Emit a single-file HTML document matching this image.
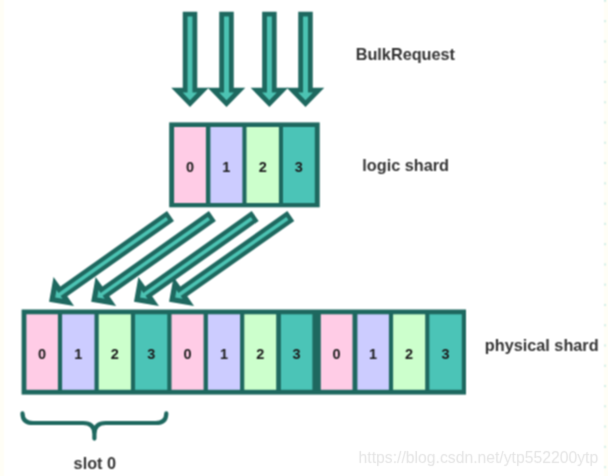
<!DOCTYPE html>
<html lang="en">
<head>
<meta charset="utf-8">
<title>BulkRequest shard routing</title>
<style>
html,body{margin:0;padding:0;background:#fff;}
body{width:608px;height:476px;overflow:hidden;position:relative;font-family:"Liberation Sans",Arial,sans-serif;}
svg{position:absolute;left:0;top:0;display:block;}
.n{font:bold 14.5px "Liberation Sans",Arial,sans-serif;fill:#1c1c1c;}
.l{font:bold 16.25px "Liberation Sans",Arial,sans-serif;fill:#333333;}
.w{font:16.3px "Liberation Sans",Arial,sans-serif;fill:#e4e4e4;}
</style>
</head>
<body>
<svg width="608" height="476" viewBox="0 0 608 476">
<defs><filter id="b" x="0" y="0" width="608" height="476" filterUnits="userSpaceOnUse" color-interpolation-filters="sRGB"><feConvolveMatrix order="3" kernelMatrix="1 2 1 2 4 2 1 2 1" divisor="16" edgeMode="duplicate" preserveAlpha="false"/></filter><filter id="c" x="0" y="0" width="608" height="476" filterUnits="userSpaceOnUse" color-interpolation-filters="sRGB"><feConvolveMatrix order="3" kernelMatrix="0 1 0 1 6 1 0 1 0" divisor="10" edgeMode="duplicate" preserveAlpha="false"/></filter></defs>
<g filter="url(#b)">
<rect width="608" height="476" fill="#ffffff"/>
<rect x="0" y="0" width="4" height="476" fill="#fffef6"/>
<rect x="604" y="0" width="4" height="476" fill="#fffef6"/>
<polygon points="197.25,11.80 197.25,87.80 208.75,87.80 190.00,107.00 171.25,87.80 182.75,87.80 182.75,11.80" fill="#1e685f"/><polygon points="192.45,16.60 192.45,92.60 197.35,92.60 190.00,100.13 182.65,92.60 187.55,92.60 187.55,16.60" fill="#4cc3b3"/>
<polygon points="233.75,11.80 233.75,87.80 245.25,87.80 226.50,107.00 207.75,87.80 219.25,87.80 219.25,11.80" fill="#1e685f"/><polygon points="228.95,16.60 228.95,92.60 233.85,92.60 226.50,100.13 219.15,92.60 224.05,92.60 224.05,16.60" fill="#4cc3b3"/>
<polygon points="276.65,11.80 276.65,87.80 288.15,87.80 269.40,107.00 250.65,87.80 262.15,87.80 262.15,11.80" fill="#1e685f"/><polygon points="271.85,16.60 271.85,92.60 276.75,92.60 269.40,100.13 262.05,92.60 266.95,92.60 266.95,16.60" fill="#4cc3b3"/>
<polygon points="312.75,11.80 312.75,87.80 324.25,87.80 305.50,107.00 286.75,87.80 298.25,87.80 298.25,11.80" fill="#1e685f"/><polygon points="307.95,16.60 307.95,92.60 312.85,92.60 305.50,100.13 298.15,92.60 303.05,92.60 303.05,16.60" fill="#4cc3b3"/>
<polygon points="173.96,220.90 67.26,296.31 74.04,305.91 49.10,301.80 53.55,276.92 60.34,286.51 167.04,211.10" fill="#1e685f"/><polygon points="168.11,219.89 60.59,295.88 62.62,298.76 55.15,297.53 56.48,290.07 58.51,292.94 166.03,216.95" fill="#4cc3b3"/>
<polygon points="215.87,220.90 109.36,296.30 116.15,305.89 91.20,301.80 95.64,276.91 102.42,286.50 208.93,211.10" fill="#1e685f"/><polygon points="210.01,219.90 102.69,295.87 104.72,298.75 97.24,297.52 98.57,290.06 100.61,292.94 207.93,216.96" fill="#4cc3b3"/>
<polygon points="258.67,220.90 152.16,296.30 158.95,305.89 134.00,301.80 138.44,276.91 145.22,286.50 251.73,211.10" fill="#1e685f"/><polygon points="252.81,219.90 145.49,295.87 147.52,298.75 140.04,297.52 141.37,290.06 143.41,292.94 250.73,216.96" fill="#4cc3b3"/>
<polygon points="294.26,220.90 187.27,296.33 194.04,305.94 169.10,301.80 173.58,276.92 180.35,286.52 287.34,211.10" fill="#1e685f"/><polygon points="288.40,219.89 180.60,295.90 182.63,298.77 175.15,297.53 176.50,290.08 178.52,292.95 286.33,216.95" fill="#4cc3b3"/>
<rect x="169.2" y="122.4" width="150.5" height="84.9" fill="#1e685f"/><rect x="174.1" y="127.0" width="31.8" height="76.0" fill="#ffcce6"/><text x="190.0" y="172.0" text-anchor="middle" class="n">0</text><rect x="210.4" y="127.0" width="32.0" height="76.0" fill="#ccccff"/><text x="226.4" y="172.0" text-anchor="middle" class="n">1</text><rect x="246.5" y="127.0" width="32.4" height="76.0" fill="#ccffcc"/><text x="262.7" y="172.0" text-anchor="middle" class="n">2</text><rect x="283.0" y="127.0" width="31.8" height="76.0" fill="#4bc4b7"/><text x="298.9" y="172.0" text-anchor="middle" class="n">3</text>
<rect x="21.6" y="309.5" width="444.4" height="85.1" fill="#1e685f"/><rect x="26.4" y="314.3" width="31.5" height="75.5" fill="#ffcce6"/><text x="42.1" y="359.1" text-anchor="middle" class="n">0</text><rect x="62.1" y="314.3" width="32.4" height="75.5" fill="#ccccff"/><text x="78.3" y="359.1" text-anchor="middle" class="n">1</text><rect x="98.7" y="314.3" width="32.2" height="75.5" fill="#ccffcc"/><text x="114.8" y="359.1" text-anchor="middle" class="n">2</text><rect x="135.1" y="314.3" width="32.2" height="75.5" fill="#4bc4b7"/><text x="151.2" y="359.1" text-anchor="middle" class="n">3</text><rect x="171.5" y="314.3" width="32.1" height="75.5" fill="#ffcce6"/><text x="187.6" y="359.1" text-anchor="middle" class="n">0</text><rect x="207.9" y="314.3" width="32.2" height="75.5" fill="#ccccff"/><text x="224.0" y="359.1" text-anchor="middle" class="n">1</text><rect x="244.3" y="314.3" width="31.9" height="75.5" fill="#ccffcc"/><text x="260.2" y="359.1" text-anchor="middle" class="n">2</text><rect x="280.9" y="314.3" width="31.5" height="75.5" fill="#4bc4b7"/><text x="296.6" y="359.1" text-anchor="middle" class="n">3</text><rect x="320.8" y="314.3" width="31.7" height="75.5" fill="#ffcce6"/><text x="336.6" y="359.1" text-anchor="middle" class="n">0</text><rect x="357.4" y="314.3" width="31.5" height="75.5" fill="#ccccff"/><text x="373.1" y="359.1" text-anchor="middle" class="n">1</text><rect x="393.1" y="314.3" width="32.1" height="75.5" fill="#ccffcc"/><text x="409.1" y="359.1" text-anchor="middle" class="n">2</text><rect x="429.4" y="314.3" width="32.4" height="75.5" fill="#4bc4b7"/><text x="445.6" y="359.1" text-anchor="middle" class="n">3</text>
<path d="M22.5,413.4 Q22.6,423 33,423 L83,423 Q94.4,423 94.4,434 L94.4,438.6 M94.4,434 Q94.4,423 105.8,423 L155.8,423 Q166.2,423 166.3,413.4" fill="none" stroke="#1e685f" stroke-width="4.2" stroke-linecap="round" stroke-linejoin="round"/>
<rect x="604.2" y="-0.2" width="1.7" height="2.1" fill="#cdece5"/><rect x="604.2" y="20.1" width="1.7" height="2.1" fill="#cdece5"/><rect x="604.2" y="40.4" width="1.7" height="2.1" fill="#cdece5"/><rect x="604.2" y="60.7" width="1.7" height="2.1" fill="#cdece5"/><rect x="604.2" y="80.9" width="1.7" height="2.1" fill="#cdece5"/><rect x="604.2" y="101.2" width="1.7" height="2.1" fill="#cdece5"/><rect x="604.2" y="121.5" width="1.7" height="2.1" fill="#cdece5"/><rect x="604.2" y="141.7" width="1.7" height="2.1" fill="#cdece5"/><rect x="604.2" y="162.0" width="1.7" height="2.1" fill="#cdece5"/><rect x="604.2" y="182.3" width="1.7" height="2.1" fill="#cdece5"/><rect x="604.2" y="202.6" width="1.7" height="2.1" fill="#cdece5"/><rect x="604.2" y="222.8" width="1.7" height="2.1" fill="#cdece5"/><rect x="604.2" y="243.1" width="1.7" height="2.1" fill="#cdece5"/><rect x="604.2" y="263.4" width="1.7" height="2.1" fill="#cdece5"/><rect x="604.2" y="283.6" width="1.7" height="2.1" fill="#cdece5"/><rect x="604.2" y="303.9" width="1.7" height="2.1" fill="#cdece5"/><rect x="604.2" y="324.2" width="1.7" height="2.1" fill="#cdece5"/><rect x="604.2" y="344.4" width="1.7" height="2.1" fill="#cdece5"/><rect x="604.2" y="364.7" width="1.7" height="2.1" fill="#cdece5"/><rect x="604.2" y="385.0" width="1.7" height="2.1" fill="#cdece5"/><rect x="604.2" y="405.2" width="1.7" height="2.1" fill="#cdece5"/><rect x="604.2" y="425.5" width="1.7" height="2.1" fill="#cdece5"/><rect x="604.2" y="445.8" width="1.7" height="2.1" fill="#cdece5"/><rect x="604.2" y="466.1" width="1.7" height="2.1" fill="#cdece5"/>
<text x="355.7" y="60" class="l">BulkRequest</text>
<text x="362.3" y="171" class="l">logic shard</text>
<text x="484.8" y="351" class="l">physical shard</text>
<text x="73.6" y="469.4" class="l">slot 0</text>
</g>
<g filter="url(#c)"><text x="358.6" y="463.3" class="w" textLength="239.6" lengthAdjust="spacingAndGlyphs">https://blog.csdn.net/ytp552200ytp</text></g>
</svg>
</body>
</html>
